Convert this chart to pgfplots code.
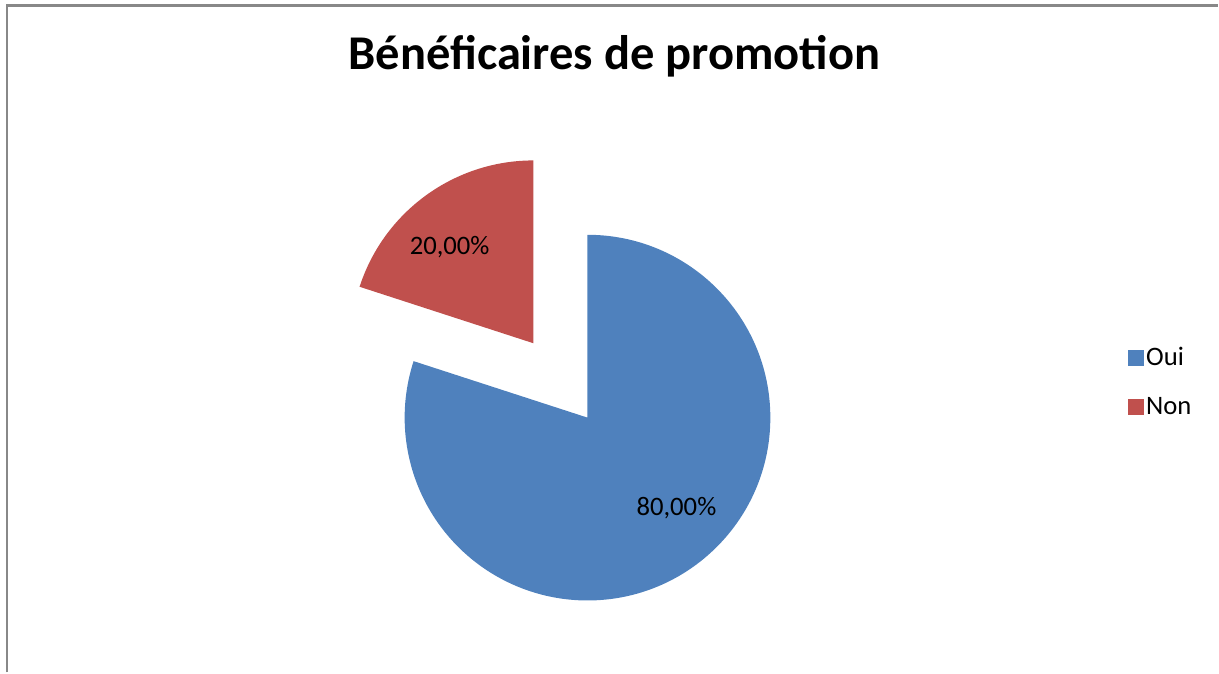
\documentclass[border=0pt]{standalone}
\usepackage{pgfplots}
\usepackage{pgfplotstable}
\usepackage{fontspec}
\setmainfont{Carlito}
\pgfplotsset{compat=1.18}
\definecolor{ouiblue}{HTML}{4F81BD}
\definecolor{nonred}{HTML}{C0504D}
\definecolor{framegray}{HTML}{888888}
\pgfplotstableread{
label value
Oui 80
Non 20
}\piedata
\begin{document}
\begin{tikzpicture}
\pgfplotstablegetelem{0}{value}\of\piedata \let\vOui\pgfplotsretval
\pgfplotstablegetelem{1}{value}\of\piedata \let\vNon\pgfplotsretval
\pgfmathsetmacro{\total}{\vOui+\vNon}
\pgfmathsetmacro{\aOui}{360*(\vOui/\total)}
\pgfmathsetmacro{\aNon}{360*(\vNon/\total)}
\pgfmathsetmacro{\endOui}{90-\aOui}
\pgfmathsetmacro{\midNon}{90+\aNon/2}
\pgfmathsetmacro{\endNon}{90+\aNon}
\begin{axis}[
  scale only axis, width=914.25pt, height=504.75pt,
  xmin=0, xmax=1219, ymin=0, ymax=673,
  hide axis, clip=false,
  legend style={draw=none, fill=none, at={(axis cs:1125,331)}, anchor=north west,
    font=\fontsize{20}{24}\selectfont, row sep=18pt,
    nodes={inner sep=2pt}, /tikz/every even column/.append style={column sep=5pt}},
  legend cell align=left,
]
\addlegendimage{legend image code/.code={\fill[ouiblue] (0pt,-5.6pt) rectangle (11pt,5.4pt);}}
\addlegendentry{Oui}
\addlegendimage{legend image code/.code={\fill[nonred] (0pt,-5.6pt) rectangle (11pt,5.4pt);}}
\addlegendentry{Non}
% bounding box
\path (axis cs:0,0) rectangle (axis cs:1219,673);
% frame
\draw[framegray, line width=1.6pt] (axis cs:7,0) -- (axis cs:7,667.5) -- (axis cs:1219,667.5);
% title
\node[anchor=base, font=\fontsize{36.4}{42}\selectfont\bfseries] at (axis cs:615,603) {Bénéficaires de promotion};
% Oui slice
\fill[ouiblue] (axis cs:588,255) -- ++(90:137.25pt) arc[start angle=90, end angle=\endOui, radius=137.25pt] -- cycle;
% Non slice (exploded)
\fill[nonred] (axis cs:588,255) ++(\midNon:69pt) -- ++(90:137.25pt) arc[start angle=90, end angle=\endNon, radius=137.25pt] -- cycle;
% labels
\node[font=\fontsize{20}{24}\selectfont] at (axis cs:450,426) {20,00\%};
\node[font=\fontsize{20}{24}\selectfont] at (axis cs:677,164) {80,00\%};
\end{axis}
\end{tikzpicture}
\end{document}
